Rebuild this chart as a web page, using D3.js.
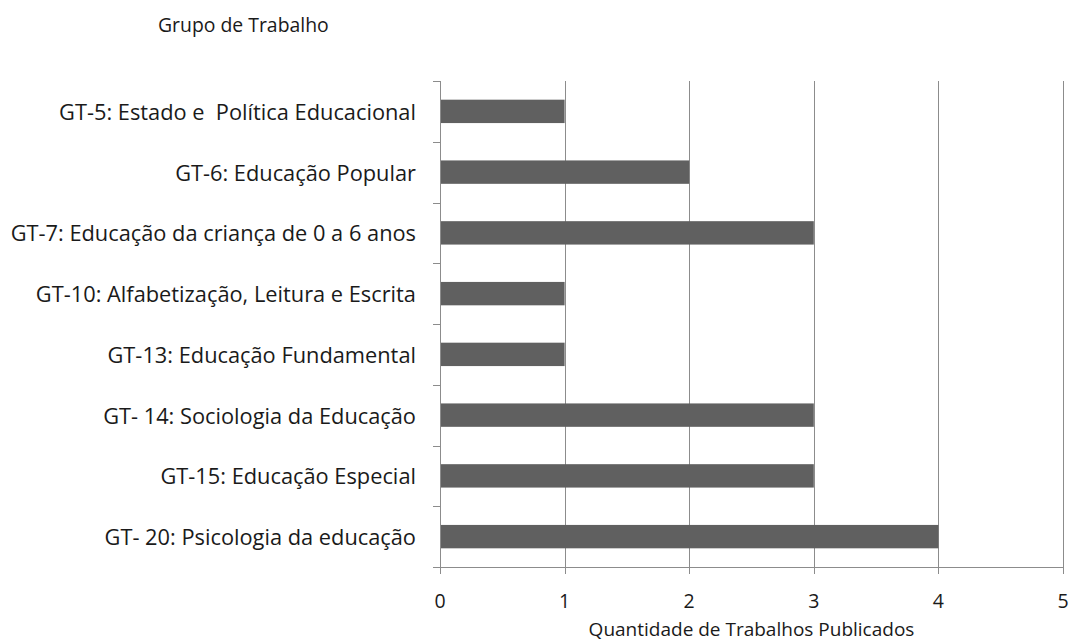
<!DOCTYPE html>
<html>
<head>
<meta charset="utf-8">
<script src="https://cdn.jsdelivr.net/npm/d3@7"></script>
<style>
  html, body { margin: 0; padding: 0; background: #fff; }
  svg { display: block; }
  text { font-family: "Open Sans", "Noto Sans", sans-serif; fill: #1a1a1a; }
</style>
</head>
<body>
<svg id="chart" width="1070" height="642"></svg>
<script>
const categories = [
  "GT-5: Estado e  Política Educacional",
  "GT-6: Educação Popular",
  "GT-7: Educação da criança de 0 a 6 anos",
  "GT-10: Alfabetização, Leitura e Escrita",
  "GT-13: Educação Fundamental",
  "GT- 14: Sociologia da Educação",
  "GT-15: Educação Especial",
  "GT- 20: Psicologia da educação"
];
const values = [1, 2, 3, 1, 1, 3, 3, 4];
const xTicks = [0, 1, 2, 3, 4, 5];
const yTitle = "Grupo de Trabalho";
const xTitle = "Quantidade de Trabalhos Publicados";

(function () {
const svg = d3.select("#chart");
const pLeft = 440, pRight = 1063, pTop = 81, pBottom = 567;
const axisColor = "#8c8c8c";

const x = d3.scaleLinear().domain([0, 5]).range([pLeft, pRight]);
const y = d3.scaleBand().domain(categories).range([pTop, pBottom]).paddingInner(0.615).paddingOuter(0.3075);
const yOuter = d3.scaleBand().domain(categories).range([pTop, pBottom]).padding(0);

// gridlines
svg.append("g").selectAll("line").data(xTicks.filter(d => d > 0)).join("line")
  .attr("x1", d => Math.round(x(d)) + 0.5).attr("x2", d => Math.round(x(d)) + 0.5)
  .attr("y1", pTop).attr("y2", pBottom)
  .attr("stroke", axisColor).attr("stroke-width", 1);

// bars
svg.append("g").selectAll("rect").data(values).join("rect")
  .attr("x", x(0))
  .attr("y", (d, i) => y(categories[i]))
  .attr("width", d => x(d) - x(0))
  .attr("height", y.bandwidth())
  .attr("fill", "#606060");

// y axis
const yAxisG = svg.append("g");
yAxisG.append("line").attr("x1", pLeft + 0.5).attr("x2", pLeft + 0.5).attr("y1", pTop).attr("y2", pBottom)
  .attr("stroke", axisColor);
const yTickPos = categories.map(c => yOuter(c)).concat([pBottom]);
yAxisG.selectAll("line.t").data(yTickPos).join("line").attr("class", "t")
  .attr("x1", pLeft - 7).attr("x2", pLeft).attr("y1", d => Math.round(d) + 0.5).attr("y2", d => Math.round(d) + 0.5)
  .attr("stroke", axisColor);
yAxisG.selectAll("text").data(categories).join("text")
  .attr("x", pLeft - 24)
  .attr("y", c => yOuter(c) + yOuter.bandwidth() / 2)
  .attr("text-anchor", "end")
  .attr("dominant-baseline", "central")
  .style("white-space", "pre")
  .attr("font-size", 21.8)
  .text(c => c);

// x axis
const xAxisG = svg.append("g");
xAxisG.append("line").attr("x1", pLeft).attr("x2", pRight + 1).attr("y1", pBottom + 0.5).attr("y2", pBottom + 0.5)
  .attr("stroke", axisColor);
xAxisG.selectAll("line.t").data(xTicks).join("line").attr("class", "t")
  .attr("x1", d => Math.round(x(d)) + 0.5).attr("x2", d => Math.round(x(d)) + 0.5)
  .attr("y1", pBottom).attr("y2", pBottom + 7)
  .attr("stroke", axisColor);
xAxisG.selectAll("text").data(xTicks).join("text")
  .attr("x", d => x(d))
  .attr("y", 608)
  .attr("text-anchor", "middle")
  .attr("font-size", 19.5)
  .text(d => d);

// titles
svg.append("text").attr("x", 158).attr("y", 32).attr("font-size", 19.4).text(yTitle);
svg.append("text").attr("x", (pLeft + pRight) / 2).attr("y", 635.5).attr("text-anchor", "middle")
  .attr("font-size", 19).text(xTitle);
})();
</script>
</body>
</html>
